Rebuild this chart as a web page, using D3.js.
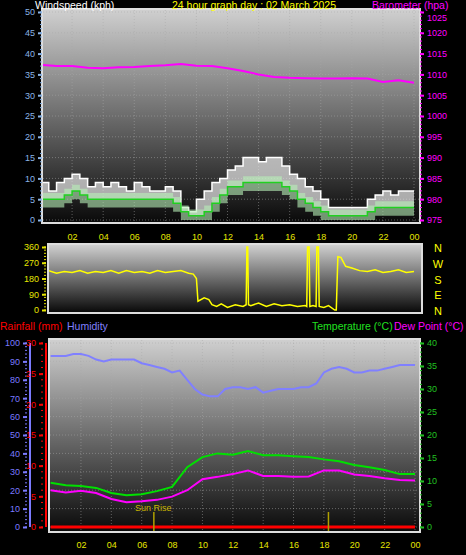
<!DOCTYPE html><html><head><meta charset="utf-8">
<script src="https://cdn.jsdelivr.net/npm/d3@7"></script>
<style>body{margin:0;background:#000}svg{display:block;font-family:"Liberation Sans",Arial,sans-serif}</style></head><body>
<svg id="c" width="466" height="555"></svg>
<script>
const hourTicks=[2,4,6,8,10,12,14,16,18,20,22,24];
const hourLabels=["02","04","06","08","10","12","14","16","18","20","22","00"];
const halfHours=d3.range(0,24.01,0.5);
const hours=d3.range(0,25);
const windGust=[9,7,9,10,11,10,8,9,8,9,8,7,9,8,7,7,8,7,3,2,5,7,9,10,12,13,15,15,14,15,15,13,11,10,8,7,5,3,3,3,3,3,5,6,7,6,7,7,7];
const windAvg=[5,5,5,6,7,6,5,5,5,5,5,5,5,5,5,5,5,4,2,1,1,2,4,6,8,8,9,9,9,9,9,8,7,5,4,3,2,1,1,1,1,1,2,3,3,3,3,3,3];
const baro=[1012.3,1012,1012,1011.6,1011.5,1011.7,1011.8,1012,1012.2,1012.5,1012.1,1012,1011.5,1010.8,1010,1009.4,1009.2,1009.1,1009,1009,1009.1,1009,1008.2,1008.6,1008];
const dirTime=[0,0.5,1,1.5,2,2.5,3,3.5,4,4.5,5,5.5,6,6.5,7,7.5,8,8.5,9,9.5,9.8,10,10.1,10.5,10.8,11,11.3,11.6,12,12.5,13,13.2,13.25,13.3,13.35,13.5,14,14.5,15,15.5,16,16.5,17,17.1,17.15,17.25,17.3,17.5,17.7,17.75,17.85,17.9,18.2,18.5,18.9,19,19.1,19.3,19.6,20,20.5,21,21.5,22,22.5,23,23.5,24];
const dirVals=[215,225,210,220,215,225,210,220,215,225,210,225,215,220,210,225,215,220,225,210,205,180,50,70,60,30,20,35,15,30,20,30,360,360,30,25,40,20,35,25,30,20,25,20,360,360,20,25,20,360,360,20,15,25,0,0,305,300,250,240,225,220,230,215,220,230,215,220];
const humidity=[93,93,93,94,94,93,91,90,91,91,91,91,89,88,87,86,84,85,80,75,72,71,71,75,76,76,75,76,73,74,75,75,75,76,76,78,84,86,87,86,84,84,85,85,86,87,88,88,88];
const temperature=[9.6,9.1,8.9,8.5,7.4,6.9,7.1,7.8,8.7,13,15.2,16,15.7,16.5,15.6,15.6,15.4,15.2,14.7,14.3,13.5,13,12.4,11.5,11.5];
const dewPoint=[8,7.5,7.9,7.4,6.1,5.4,5.6,5.9,6.6,8,10.4,10.9,11.5,12.3,11.1,11.1,10.9,11,12.3,12.3,11.4,11.1,10.6,10.2,10.1];
const windTicks=d3.range(0,51,5), baroTicks=d3.range(975,1026,5), dirTicks=[0,90,180,270,360], compass=["N","E","S","W","N"];
const humTicks=d3.range(0,101,10), rainTicks=d3.range(0,31,5), tempTicks=d3.range(0,41,5);

const svg=d3.select("#c");
const defs=svg.append("defs");
const g=defs.append("linearGradient").attr("id","bg").attr("x1",0).attr("y1",0).attr("x2",0).attr("y2",1);
g.append("stop").attr("offset",0).attr("stop-color","#cfcfcf");
g.append("stop").attr("offset",1).attr("stop-color","#0a0a0a");
function panel(x0,x1,y0,y1,id){
  svg.append("rect").attr("x",x0-2).attr("y",y0-2).attr("width",x1-x0+4).attr("height",y1-y0+4).attr("fill","#ddd");
  svg.append("rect").attr("x",x0).attr("y",y0).attr("width",x1-x0).attr("height",y1-y0).attr("fill","url(#bg)");
  defs.append("clipPath").attr("id",id).append("rect").attr("x",x0).attr("y",y0).attr("width",x1-x0).attr("height",y1-y0);
}
function grid(x,y,yt,x0,x1,y0,y1){
  hourTicks.forEach(h=>svg.append("line").attr("x1",x(h)).attr("x2",x(h)).attr("y1",y0).attr("y2",y1).attr("stroke","#aaa").attr("stroke-opacity",0.5).attr("stroke-dasharray","1,2"));
  yt.forEach(v=>svg.append("line").attr("x1",x0).attr("x2",x1).attr("y1",y(v)).attr("y2",y(v)).attr("stroke","#aaa").attr("stroke-opacity",0.5).attr("stroke-dasharray","1,2"));
}
function xaxis(x,y){
  const ax=svg.append("g").attr("transform",`translate(0,${y})`).call(d3.axisBottom(x).tickValues(hourTicks).tickFormat((d,i)=>hourLabels[i]).tickSize(0).tickPadding(4));
  ax.select(".domain").remove();ax.selectAll("text").attr("fill","#e6e600").attr("font-size",9);
}
function yaxis(sc,ticks,x,side,color,fmt){
  const a=side=="left"?d3.axisLeft(sc):d3.axisRight(sc);
  const ax=svg.append("g").attr("transform",`translate(${x},0)`).call(a.tickValues(ticks).tickSize(4).tickPadding(3).tickFormat(fmt||d3.format("d")));
  ax.select(".domain").remove();ax.selectAll("line").attr("stroke",color).attr("stroke-width",2);
  ax.selectAll("text").attr("fill",color).attr("font-size",9);
  const[ a0,a1]=sc.domain();const step=(ticks[1]-ticks[0])/5;
  svg.append("g").selectAll("line").data(d3.range(a0,a1+0.001,step)).join("line").attr("x1",x).attr("x2",side=="left"?x-2:x+2).attr("y1",d=>sc(d)).attr("y2",d=>sc(d)).attr("stroke",color);
  return ax;
}
// Panel 1
const x1=d3.scaleLinear([0,24],[41,414]);
const yW=d3.scaleLinear([0,50],[220,12]);
const yB=d3.scaleLinear([975,1025],[220,12]);
panel(43,419,10,222,"c1");
grid(x1,yW,windTicks,43,419,10,222);
yaxis(yW,windTicks,42,"left","#8ab4e6");
const bAx=yaxis(yB,baroTicks,420,"right","#ff00ff");
bAx.selectAll(".tick").filter(d=>d===1025).select("text").attr("dy","0.9em");
xaxis(x1,230);
const c1=svg.append("g").attr("clip-path","url(#c1)");
c1.append("path").datum(halfHours).attr("d",d3.area().curve(d3.curveStepAfter).x(d=>x1(d)).y0((d,i)=>yW(windAvg[i])).y1((d,i)=>yW(windGust[i]))).attr("fill","#e8e8e8").attr("fill-opacity",0.7);
c1.append("path").datum(halfHours).attr("d",d3.line().curve(d3.curveStepAfter).x(d=>x1(d)).y((d,i)=>yW(windGust[i]))).attr("fill","none").attr("stroke","#fff").attr("stroke-width",1.5);
c1.append("path").datum(halfHours).attr("d",d3.area().curve(d3.curveStepAfter).x(d=>x1(d)).y0((d,i)=>yW(Math.max(0,windAvg[i]-2))).y1((d,i)=>yW(windAvg[i]+1.5))).attr("fill","#b8f0b8").attr("fill-opacity",0.6);
c1.append("path").datum(halfHours).attr("d",d3.line().curve(d3.curveStepAfter).x(d=>x1(d)).y((d,i)=>yW(windAvg[i]))).attr("fill","none").attr("stroke","#20d020").attr("stroke-width",1.5);
c1.append("path").datum(hours).attr("d",d3.line().x(d=>x1(d)).y((d,i)=>yB(baro[i]))).attr("fill","none").attr("stroke","#ff00ff").attr("stroke-width",2);
svg.append("text").attr("x",35).attr("y",9).attr("fill","#fff").attr("font-size",10.5).text("Windspeed (kph)");
svg.append("text").attr("x",172).attr("y",9).attr("fill","#ffff00").attr("font-size",10.5).text("24 hour graph day : 02 March 2025");
svg.append("text").attr("x",372).attr("y",9).attr("fill","#ff00ff").attr("font-size",10.5).text("Barometer (hpa)");
// Panel 2
const yD=d3.scaleLinear([0,360],[310,247]);
panel(49,421,245,312,"c2");
yaxis(yD,dirTicks,46,"left","#e6e600");
const c2=svg.append("g").attr("clip-path","url(#c2)");
c2.append("path").datum(dirTime).attr("d",d3.line().x(d=>x1(d)).y((d,i)=>yD(dirVals[i]))).attr("fill","none").attr("stroke","#ffff00").attr("stroke-width",1.5);
compass.forEach((t,i)=>svg.append("text").attr("x",438).attr("y",yD(dirTicks[i])+5).attr("text-anchor","middle").attr("fill","#ffff00").attr("font-size",11).text(t));
// Panel 3
const x3=d3.scaleLinear([0,24],[50.6,415]);
const yH=d3.scaleLinear([0,100],[527,343]);
const yR=d3.scaleLinear([0,30],[527,343]);
const yT=d3.scaleLinear([0,40],[527,343]);
panel(50,419,340,531,"c3");
grid(x3,yH,humTicks,50,419,340,531);
yaxis(yH,humTicks,27,"left","#7b7bff");
svg.append("line").attr("x1",30).attr("x2",30).attr("y1",343).attr("y2",527).attr("stroke","#7b7bff").attr("stroke-width",2);
yaxis(yR,rainTicks,43,"left","#ff0000");
svg.append("line").attr("x1",46).attr("x2",46).attr("y1",343).attr("y2",527).attr("stroke","#ff0000").attr("stroke-width",2);
yaxis(yT,tempTicks,420,"right","#20c020");
xaxis(x3,538);
const c3=svg.append("g").attr("clip-path","url(#c3)");
c3.append("path").datum(halfHours).attr("d",d3.line().x(d=>x3(d)).y((d,i)=>yH(humidity[i]))).attr("fill","none").attr("stroke","#8080ff").attr("stroke-width",2);
c3.append("path").datum(hours).attr("d",d3.line().x(d=>x3(d)).y((d,i)=>yT(temperature[i]))).attr("fill","none").attr("stroke","#00e000").attr("stroke-width",2);
c3.append("path").datum(hours).attr("d",d3.line().x(d=>x3(d)).y((d,i)=>yT(dewPoint[i]))).attr("fill","none").attr("stroke","#ff00ff").attr("stroke-width",2);
c3.append("line").attr("x1",x3(0)).attr("x2",x3(24)).attr("y1",yR(0)).attr("y2",yR(0)).attr("stroke","#ff0000").attr("stroke-width",3);
[6.8,18.3].forEach(h=>c3.append("line").attr("x1",x3(h)).attr("x2",x3(h)).attr("y1",512).attr("y2",531).attr("stroke","#b0a000").attr("stroke-width",1.5));
svg.append("text").attr("x",135).attr("y",511).attr("fill","#c8b400").attr("font-size",9).text("Sun Rise");
svg.append("text").attr("x",0).attr("y",330).attr("fill","#ff0000").attr("font-size",10.5).text("Rainfall (mm)");
svg.append("text").attr("x",67).attr("y",330).attr("fill","#8080ff").attr("font-size",10.5).text("Humidity");
svg.append("text").attr("x",312).attr("y",330).attr("fill","#20e020").attr("font-size",10.5).text("Temperature (°C)");
svg.append("text").attr("x",394).attr("y",330).attr("fill","#ff00ff").attr("font-size",10.5).text("Dew Point (°C)");
</script></body></html>
